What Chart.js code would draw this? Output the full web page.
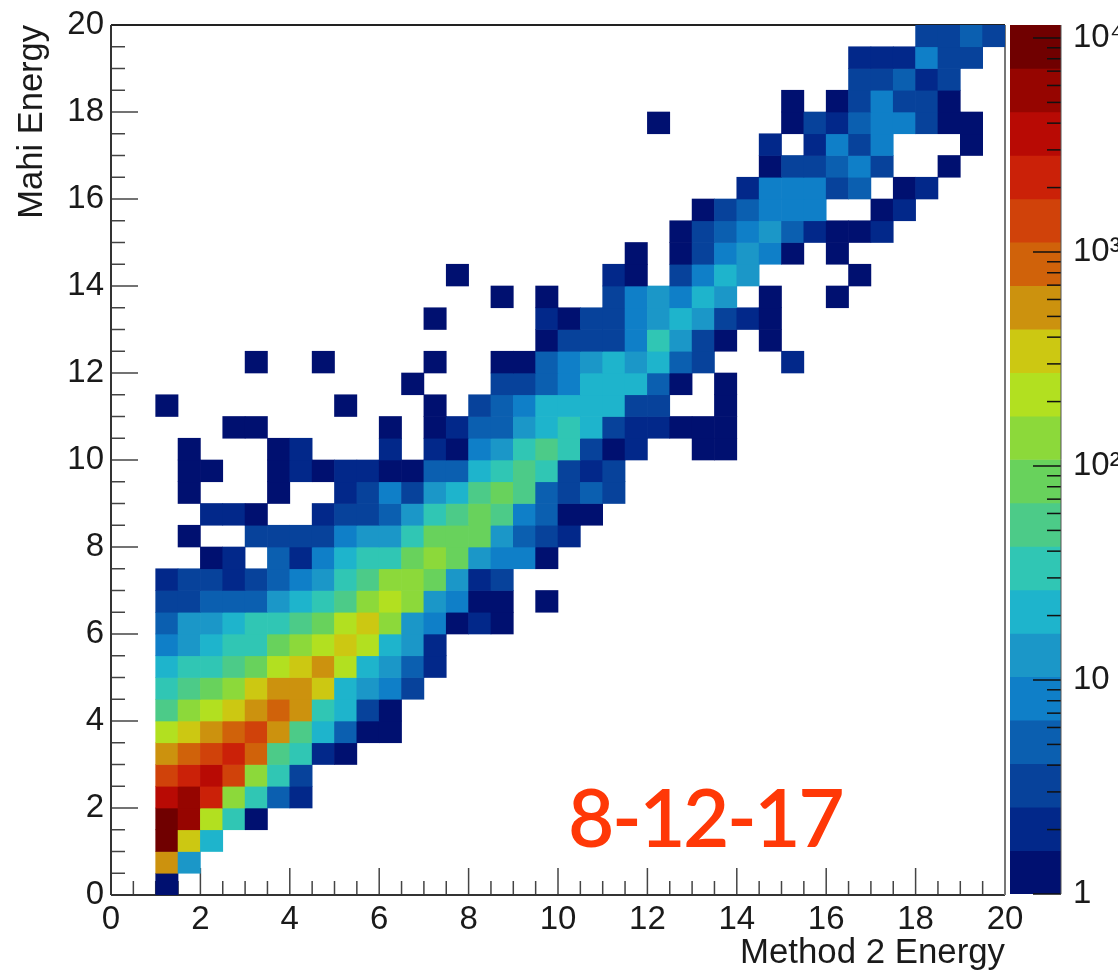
<!DOCTYPE html>
<html>
<head>
<meta charset="utf-8">
<title>Mahi vs Method 2 Energy</title>
<script src="https://cdn.jsdelivr.net/npm/chart.js@4"></script>
<style>
  html, body { margin: 0; padding: 0; background: #fff; overflow: hidden; }
  canvas { position: absolute; top: -15px; }
  #stamp {
    position: absolute; left: 568px; top: 768px;
    font: 600 80px Lato, sans-serif; letter-spacing: -2.5px; color: #ff3807;
    line-height: 96px; white-space: nowrap;
  }
</style>
</head>
<body>
<canvas id="heatmap" width="1118" height="986" style="left:0"></canvas>
<canvas id="colorbar" width="113" height="986" style="left:1005px"></canvas>
<div id="stamp">8-12-17</div>
<script>
const binWidth = 0.5;
const xTicks = [0, 2, 4, 6, 8, 10, 12, 14, 16, 18, 20];
const zTicks = [1, 10, 100, 1000, 10000];
const zMinor = [2, 3, 4, 5, 6, 7, 8, 9, 20, 30, 40, 50, 60, 70, 80, 90, 200, 300, 400, 500, 600, 700, 800, 900, 2000, 3000, 4000, 5000, 6000, 7000, 8000, 9000];
const zMax = 11500;
const palette = ['#001070', '#02288a', '#07429b', '#0b5fb0', '#0f7fc8', '#1b97c8', '#1eb4cc', '#30c6b4', '#4ccb88', '#68d25c',
  '#8cd93a', '#b2e020', '#ccc812', '#cc920e', '#d0620a', '#d0420a', '#cb2108', '#b80a04', '#960500', '#700000'];

const rowStart = [2, 2, 2, 2, 2, 2, 2, 2, 2, 2, 2, 2, 2, 2, 2, 4, 3, 4, 3, 3, 3, 5, 2, 13, 6, 19, 14, 17, 15, 23, 25, 26, 28, 29, 29, 24, 30, 33, 33, 36];
const rowCounts = [
  [1],
  [600, 13],
  [10500, 375, 22],
  [10500, 6500, 233, 35, 1],
  [4000, 6500, 2500, 145, 35, 5, 2],
  [1560, 2500, 4000, 1560, 145, 35, 3],
  [600, 970, 1560, 2500, 970, 56, 35, 2, 1],
  [233, 375, 600, 970, 1560, 600, 56, 22, 5, 1, 1],
  [56, 145, 233, 375, 600, 970, 600, 35, 22, 3, 1],
  [35, 56, 90, 145, 375, 600, 600, 375, 22, 13, 8, 3],
  [22, 35, 35, 56, 90, 233, 375, 600, 233, 22, 13, 5, 2],
  [8, 13, 22, 35, 35, 90, 145, 233, 375, 233, 22, 13, 2],
  [5, 13, 13, 22, 35, 35, 56, 90, 233, 375, 145, 13, 8, 1, 2, 1],
  [3, 3, 5, 5, 5, 13, 22, 35, 56, 145, 233, 145, 13, 8, 1, 1, 0, 1],
  [2, 3, 3, 2, 3, 5, 8, 13, 35, 56, 145, 145, 90, 13, 2, 3],
  [1, 2, 0, 5, 2, 8, 22, 35, 35, 90, 145, 90, 13, 8, 8, 1],
  [1, 0, 0, 3, 3, 3, 3, 8, 13, 13, 35, 90, 90, 90, 13, 5, 3, 2],
  [2, 2, 1, 0, 0, 2, 3, 3, 5, 13, 35, 56, 90, 56, 8, 5, 1, 1],
  [1, 0, 0, 0, 1, 0, 0, 2, 3, 8, 3, 13, 22, 56, 90, 56, 5, 3, 5, 3],
  [1, 1, 0, 0, 1, 2, 1, 2, 2, 1, 1, 5, 5, 22, 35, 56, 35, 3, 2, 3],
  [1, 0, 0, 0, 1, 2, 0, 0, 0, 2, 0, 2, 1, 8, 13, 35, 56, 35, 3, 1, 2, 0, 0, 1, 1],
  [1, 1, 0, 0, 0, 0, 0, 1, 0, 1, 2, 5, 5, 13, 22, 35, 22, 3, 2, 2, 1, 1, 1],
  [1, 0, 0, 0, 0, 0, 0, 0, 1, 0, 0, 0, 1, 0, 3, 5, 8, 22, 22, 22, 22, 3, 3, 0, 0, 1],
  [1, 0, 0, 0, 3, 3, 5, 8, 22, 22, 22, 5, 1, 0, 1],
  [1, 0, 0, 1, 0, 0, 0, 0, 1, 0, 0, 1, 1, 5, 8, 13, 22, 13, 22, 5, 3, 0, 0, 0, 2],
  [1, 3, 3, 3, 8, 35, 13, 3, 1, 0, 1],
  [1, 0, 0, 0, 0, 2, 1, 3, 3, 8, 13, 22, 13, 3, 2, 1],
  [1, 0, 1, 0, 0, 3, 8, 13, 8, 22, 13, 0, 1, 0, 0, 1],
  [1, 0, 0, 0, 0, 0, 0, 2, 1, 0, 3, 8, 22, 13, 0, 0, 0, 0, 1],
  [1, 0, 1, 3, 8, 13, 8, 1, 0, 1],
  [1, 3, 5, 8, 13, 5, 2, 1, 1, 2],
  [1, 3, 5, 8, 8, 8, 0, 0, 1, 2],
  [2, 8, 8, 8, 3, 5, 0, 1, 2],
  [1, 3, 3, 5, 8, 3, 0, 0, 1],
  [2, 0, 2, 8, 3, 8, 0, 0, 0, 1],
  [1, 0, 0, 0, 0, 0, 1, 3, 2, 5, 8, 8, 3, 1, 1],
  [1, 0, 1, 3, 8, 3, 3, 1],
  [3, 3, 5, 2, 3],
  [2, 2, 2, 8, 3, 3],
  [3, 3, 5, 3]
];

const levelWidth = Math.log10(zMax) / palette.length;
function colorFor(count) {
  const level = Math.floor(Math.log10(count) / levelWidth);
  return palette[Math.min(level, palette.length - 1)];
}

const cells = [];
const cellColors = [];
rowCounts.forEach((row, j) => {
  row.forEach((count, k) => {
    if (count > 0) {
      const bin = rowStart[j] + k;
      cells.push({ x: (bin + 0.5) * binWidth, y: [j * binWidth, (j + 1) * binWidth] });
      cellColors.push(colorFor(count));
    }
  });
});

const levelBars = palette.map((c, i) => ({
  x: 0.5,
  y: [Math.pow(10, i * levelWidth), Math.pow(10, (i + 1) * levelWidth)]
}));

const textColor = '#1a1a1a';
const axisColor = '#333';
const tickFont = { family: '"Liberation Sans", Arial, sans-serif', size: 33 };
const xTitleFont = { family: '"Liberation Sans", Arial, sans-serif', size: 34.8, lineHeight: 1 };
const yTitleFont = { family: '"Liberation Sans", Arial, sans-serif', size: 34.5 };

function stroke(ctx, x1, y1, x2, y2, color, width) {
  ctx.strokeStyle = color;
  ctx.lineWidth = width;
  ctx.beginPath();
  ctx.moveTo(x1, y1);
  ctx.lineTo(x2, y2);
  ctx.stroke();
}

// ROOT style frame, tick marks point into the plot
const frameTicks = {
  id: 'frameTicks',
  beforeDatasetsDraw(chart) {
    const { ctx, chartArea: a, scales } = chart;
    ctx.save();
    for (let v = 0; v <= 20; v += binWidth) {
      const len = v % 2 === 0 ? 27 : 14;
      const px = scales.x.getPixelForValue(v);
      const py = scales.y.getPixelForValue(v);
      stroke(ctx, px, a.bottom, px, a.bottom - len, '#444', 1.5);
      stroke(ctx, a.left, py, a.left + len, py, '#444', 1.5);
    }
    stroke(ctx, a.left, a.top, a.right, a.top, '#222', 2);
    stroke(ctx, a.left, a.top, a.left, a.bottom, axisColor, 2);
    stroke(ctx, a.left, a.bottom, a.right, a.bottom, axisColor, 2);
    stroke(ctx, a.right, a.top, a.right, a.bottom, '#777', 2);
    ctx.restore();
  }
};

const barTicks = {
  id: 'barTicks',
  afterDatasetsDraw(chart) {
    const { ctx, chartArea: a, scales } = chart;
    ctx.save();
    zTicks.forEach(v => {
      const py = scales.y.getPixelForValue(v);
      stroke(ctx, a.right, py, a.right - 28, py, '#111', 1.5);
    });
    zMinor.forEach(v => {
      const py = scales.y.getPixelForValue(v);
      stroke(ctx, a.right, py, a.right - 14, py, '#111', 1.5);
    });
    stroke(ctx, a.right, a.top, a.right, a.bottom, '#555', 1);
    ctx.restore();
  }
};

new Chart(document.getElementById('heatmap').getContext('2d'), {
  type: 'bar',
  data: {
    datasets: [{
      label: 'Entries',
      data: cells,
      backgroundColor: cellColors,
      borderWidth: 0,
      barThickness: 22.35
    }]
  },
  plugins: [frameTicks],
  options: {
    responsive: false,
    animation: false,
    layout: { autoPadding: false, padding: { top: 40, right: 113, left: 0, bottom: 0 } },
    plugins: { legend: { display: false }, tooltip: { enabled: false } },
    scales: {
      x: {
        type: 'linear',
        min: 0,
        max: 20,
        offset: false,
        grid: { display: false, offset: false, drawTicks: false },
        border: { display: false },
        afterFit: s => { s.height = 76; },
        afterBuildTicks: s => { s.ticks = xTicks.map(v => ({ value: v })); },
        ticks: { autoSkip: false, maxRotation: 0, padding: 5, color: textColor, font: tickFont },
        title: { display: true, text: 'Method 2 Energy', align: 'end', color: textColor, font: xTitleFont, padding: 0 }
      },
      y: {
        type: 'linear',
        min: 0,
        max: 20,
        grid: { display: false, drawTicks: false },
        border: { display: false },
        afterFit: s => { s.width = 111; },
        afterBuildTicks: s => { s.ticks = xTicks.map(v => ({ value: v })); },
        ticks: { autoSkip: false, padding: 7, color: textColor, font: tickFont },
        title: { display: true, text: 'Mahi Energy', align: 'end', color: textColor, font: yTitleFont, padding: 12 }
      }
    }
  }
});

const zLabels = { 1: '1', 10: '10', 100: '10\u00b2', 1000: '10\u00b3', 10000: '10\u2074' };

new Chart(document.getElementById('colorbar').getContext('2d'), {
  type: 'bar',
  data: {
    datasets: [{
      label: 'Colour scale',
      data: levelBars,
      backgroundColor: palette,
      borderWidth: 0,
      barThickness: 51
    }]
  },
  plugins: [barTicks],
  options: {
    responsive: false,
    animation: false,
    layout: { autoPadding: false, padding: { top: 40, bottom: 77, left: 5, right: 0 } },
    plugins: { legend: { display: false }, tooltip: { enabled: false } },
    scales: {
      x: { type: 'linear', display: false, min: 0, max: 1, offset: false, grid: { display: false, offset: false } },
      y: {
        type: 'logarithmic',
        position: 'right',
        bounds: 'data',
        min: 1,
        max: zMax,
        grid: { display: false, drawTicks: false },
        border: { display: false },
        afterFit: s => { s.width = 57; },
        afterBuildTicks: s => { s.ticks = zTicks.map(v => ({ value: v })); },
        ticks: { autoSkip: false, padding: 12, color: textColor, font: tickFont, callback: v => zLabels[v] }
      }
    }
  }
});
</script>
</body>
</html>
